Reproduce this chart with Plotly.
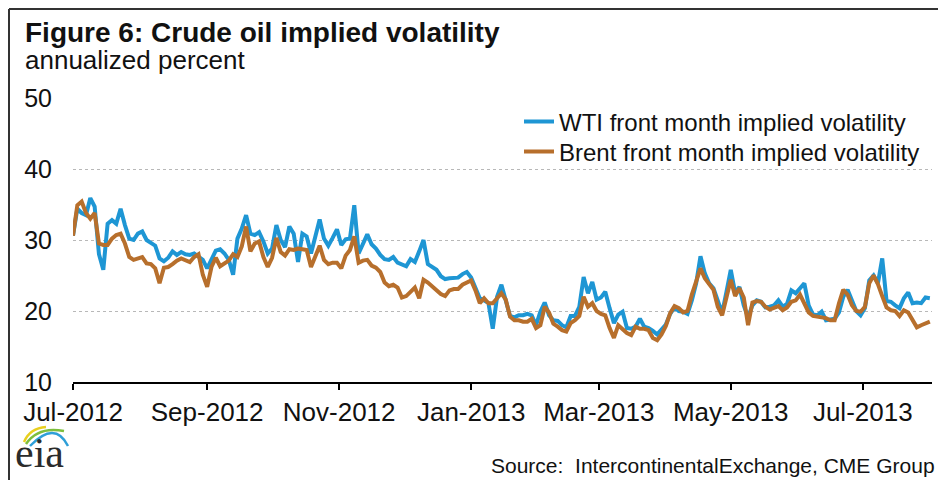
import pandas as pd
import plotly.graph_objects as go

start_date = "2012-07-01"
n_points = 199
step = "2D"

wti = [
    30.6, 34.4, 33.8, 33.5, 35.9, 34.7, 28.0, 25.8, 32.3, 32.8,
    32.3, 34.4, 32.1, 30.2, 30.0, 30.9, 31.2, 30.0, 29.6, 29.2,
    27.4, 27.0, 27.5, 28.4, 27.9, 28.3, 28.0, 27.9, 28.1, 27.7,
    27.2, 26.0, 27.2, 28.5, 28.7, 28.1, 27.2, 25.1, 30.2, 31.6,
    33.5, 30.9, 30.7, 31.1, 29.8, 28.1, 28.8, 32.1, 30.0, 29.0,
    31.9, 30.9, 26.9, 30.9, 30.5, 28.1, 30.5, 32.9, 30.2, 29.2,
    30.3, 31.5, 29.3, 30.1, 30.2, 34.9, 28.1, 29.4, 30.8, 29.4,
    28.8, 27.9, 27.3, 27.2, 27.6, 26.8, 26.6, 26.3, 27.3, 26.9,
    28.4, 30.0, 26.6, 26.2, 25.8, 24.9, 24.5, 24.6, 24.7, 24.7,
    25.2, 25.5, 24.7, 23.4, 21.8, 21.5, 21.1, 17.5, 22.0, 23.7,
    21.5, 19.3, 19.1, 19.4, 19.4, 19.6, 19.4, 18.0, 19.9, 21.2,
    19.4, 18.7, 18.6, 18.0, 17.7, 19.3, 19.3, 20.6, 24.8, 22.5,
    24.1, 21.6, 21.9, 22.7, 20.4, 18.3, 19.5, 19.9, 17.6, 17.5,
    17.8, 18.9, 17.8, 17.6, 17.2, 16.7, 17.4, 18.1, 19.6, 20.5,
    20.0, 19.9, 19.6, 21.5, 23.9, 27.7, 25.3, 23.9, 23.2, 21.3,
    19.7, 22.7, 25.8, 22.6, 23.4, 20.8, 19.1, 20.8, 21.5, 21.3,
    20.5, 20.6, 20.8, 21.5, 20.6, 21.0, 22.9, 22.5, 23.3, 23.9,
    20.8, 19.5, 19.4, 19.9, 18.7, 18.8, 18.9, 19.8, 22.0, 23.0,
    21.5, 20.0, 19.4, 20.4, 24.3, 25.0, 23.9, 27.4, 21.4, 21.3,
    20.8, 20.4, 21.8, 22.6, 21.1, 21.2, 21.1, 21.9, 21.8,
]

brent = [
    30.6, 34.9, 35.4, 33.8, 33.0, 33.8, 29.5, 29.3, 29.3, 30.2,
    30.7, 30.9, 29.5, 27.6, 27.2, 27.4, 27.6, 26.7, 26.6, 26.0,
    23.9, 26.1, 26.2, 26.6, 27.1, 27.4, 27.1, 26.9, 27.6, 28.0,
    25.1, 23.4, 26.2, 27.5, 26.3, 26.7, 27.1, 28.0, 27.6, 29.1,
    31.9, 28.4, 29.5, 29.8, 27.6, 26.2, 27.5, 30.3, 28.3, 27.8,
    28.7, 28.6, 28.8, 28.7, 28.6, 26.2, 27.6, 29.2, 27.2, 26.6,
    26.8, 26.8, 26.0, 27.8, 28.6, 30.5, 26.8, 27.1, 27.2, 26.4,
    26.1, 25.5, 24.0, 23.5, 23.7, 23.3, 21.9, 22.1, 22.7, 23.3,
    21.8, 24.4, 24.0, 23.5, 22.9, 22.4, 22.1, 22.9, 23.1, 23.1,
    23.7, 24.0, 24.3, 22.9, 21.1, 21.8, 21.1, 21.1, 21.9, 22.5,
    21.6, 19.2, 18.7, 18.7, 18.5, 18.5, 18.9, 17.6, 18.0, 20.6,
    19.8, 18.2, 17.8, 17.3, 17.1, 18.3, 18.7, 19.3, 22.0, 20.6,
    21.1, 20.0, 19.6, 19.4, 17.6, 16.2, 18.0, 17.5, 16.9, 16.6,
    17.8, 17.5, 17.5, 17.3, 16.2, 15.9, 16.7, 17.9, 19.7, 20.7,
    20.4, 19.8, 20.0, 22.3, 24.4, 26.0, 24.6, 23.7, 23.0, 20.6,
    19.4, 21.9, 24.4, 22.1, 23.2, 21.9, 18.0, 21.2, 21.4, 21.3,
    20.6, 20.2, 20.4, 20.7, 20.1, 20.5, 21.3, 21.5, 22.3, 21.1,
    19.8, 19.3, 19.2, 19.2, 19.0, 18.7, 18.7, 21.1, 23.0, 22.3,
    20.8, 20.0, 19.9, 20.6, 23.9, 25.0, 23.8, 22.1, 20.5, 20.1,
    20.0, 19.3, 20.1, 19.8, 18.7, 17.7, 18.0, 18.3, 18.5,
]

dates = pd.date_range(start_date, periods=n_points, freq=step)

series_names = ["WTI front month implied volatility", "Brent front month implied volatility"]
title_text = "Figure 6: Crude oil implied volatility"
subtitle_text = "annualized percent"
source_text = "Source:  IntercontinentalExchange, CME Group"

# page body has an 8px margin: the figure is placed at (8, 8) in the window
OFF = 8
W, H = 946 - OFF, 480 - OFF
ML = 73 - OFF
MT = 98 - OFF
MB = 480 - 382
MR = 946 - 932
PW, PH = W - ML - MR, H - MT - MB


def px(x):
    """window pixel x -> paper coordinate"""
    return (x - OFF - ML) / PW


def py(y):
    """window pixel y -> paper coordinate"""
    return (H - MB - (y - OFF)) / PH


FONT = "Liberation Sans, Arial, sans-serif"

fig = go.Figure()
fig.add_trace(go.Scatter(x=dates, y=wti, mode="lines", name=series_names[0],
                         legend="legend",
                         line=dict(color="#1E96D4", width=4)))
fig.add_trace(go.Scatter(x=dates, y=brent, mode="lines", name=series_names[1],
                         legend="legend2",
                         line=dict(color="#B76F2C", width=4)))

legend_style = dict(xanchor="left", yanchor="middle",
                    font=dict(size=24, family=FONT, color="#111111"),
                    bgcolor="rgba(0,0,0,0)", borderwidth=0)

fig.update_layout(
    width=W, height=H,
    margin=dict(l=ML, r=MR, t=MT, b=MB),
    paper_bgcolor="white", plot_bgcolor="white",
    font=dict(family=FONT, color="#111111"),
    showlegend=True,
    legend=dict(x=px(519), y=py(122), **legend_style),
    legend2=dict(x=px(519), y=py(152), **legend_style),
    xaxis=dict(type="date", range=["2012-07-01", "2013-08-02"],
               tick0="2012-07-01", dtick="M2", tickformat="%b-%Y",
               showgrid=False, zeroline=False,
               showline=True, linecolor="#000000", linewidth=1.5,
               ticks="outside", ticklen=6, tickcolor="#000000", tickwidth=1.5,
               tickfont=dict(size=26, family=FONT, color="#111111")),
    yaxis=dict(range=[10, 50], dtick=10, tick0=10,
               showgrid=True, gridcolor="#b8b8b8", griddash="dot", gridwidth=1,
               zeroline=False, showline=False, ticks="",
               ticklabelstandoff=20,
               tickfont=dict(size=25, family=FONT, color="#111111")),
)

annotations = [
    dict(text="<b>" + title_text + "</b>", x=px(23), y=py(33), xanchor="left", yanchor="middle",
         font=dict(size=28, family=FONT, color="#111111")),
    dict(text=subtitle_text, x=px(23), y=py(60), xanchor="left", yanchor="middle",
         font=dict(size=26, family=FONT, color="#111111")),
    dict(text=source_text, x=px(489), y=py(465), xanchor="left", yanchor="middle",
         font=dict(size=21, family=FONT, color="#111111")),
    dict(text="eia", x=px(13), y=py(453), xanchor="left", yanchor="middle",
         font=dict(size=42, family="Liberation Serif, DejaVu Serif, serif", color="#2B2B2B")),
]
for a in annotations:
    a.update(xref="paper", yref="paper", showarrow=False)
fig.update_layout(annotations=annotations)


def path(points):
    (x0, y0), (cx, cy), (x1, y1) = points
    return f"M {px(x0)} {py(y0)} Q {px(cx)} {py(cy)} {px(x1)} {py(y1)}"


shapes = [
    dict(type="line", x0=px(9), x1=px(946), y0=py(9), y1=py(9),
         line=dict(color="#333333", width=2)),
    dict(type="line", x0=px(9), x1=px(9), y0=py(9), y1=py(480),
         line=dict(color="#333333", width=2)),
    dict(type="path", path=path([(24, 442), (30, 428), (46, 427)]),
         line=dict(color="#E8CF1E", width=2.5)),
    dict(type="path", path=path([(26, 444), (38, 426), (64, 431)]),
         line=dict(color="#7DBE3C", width=2.5)),
    dict(type="path", path=path([(30, 446), (55, 420), (68, 446)]),
         line=dict(color="#2E9FD8", width=2.5)),
]
for s in shapes:
    s.update(xref="paper", yref="paper", layer="above")
fig.update_layout(shapes=shapes)

fig.write_html("out.html")
